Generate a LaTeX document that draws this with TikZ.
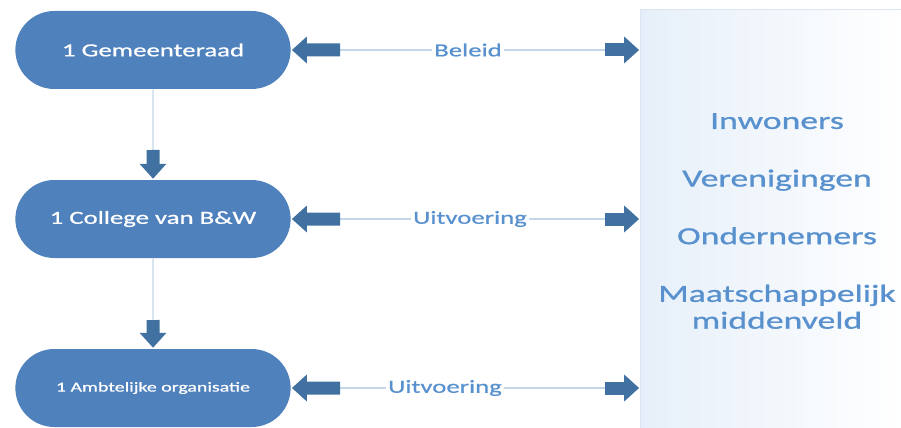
\documentclass[tikz,border=0pt]{standalone}
\usepackage{fontspec}
\setmainfont[FakeStretch=1.45,FakeBold=0.8]{Carlito}
\usetikzlibrary{arrows.meta,positioning,shapes.misc}

\definecolor{orgblue}{RGB}{79,129,189}
\definecolor{arrowblue}{RGB}{65,113,160}
\definecolor{lineblue}{RGB}{196,214,234}
\definecolor{textblue}{RGB}{88,145,206}
\definecolor{panelblue}{RGB}{230,239,249}

\tikzset{
	orgnode/.style={rounded rectangle, fill=orgblue, text=white, minimum width=5.74cm, minimum height=1.56cm, font=\fontsize{10.5}{13}\selectfont},
	flowlabel/.style={text=textblue, font=\fontsize{10.5}{13}\selectfont, inner sep=1pt},
	thinline/.style={lineblue, line width=0.6pt},
	blockarrow/.style={arrowblue, line width=0.26cm, -{Triangle[width=0.52cm, length=0.3cm]}, shorten >=0.5pt}
}

\begin{document}
\begin{tikzpicture}
	\useasboundingbox (0,0) rectangle (18.02,8.54);

	\node [draw=lineblue!60, line width=0.4pt, left color=panelblue, right color=white, minimum width=5.3cm, minimum height=8.4cm, anchor=south west] (panel) at (12.8,-0.06) {};

	\node [text=textblue, align=center, font=\fontsize{14}{15.3}\selectfont] (groups) at (15.54,4.12) {Inwoners\\[17.5pt]Verenigingen\\[17.5pt]Ondernemers\\[17.5pt]Maatschappelijk\\middenveld};

	\node [orgnode] (raad) at (3.06,7.54) {1 Gemeenteraad};

	\node [orgnode] (college) at (3.06,4.16) {1 College van B\&W};

	\node [orgnode, font=\fontsize{7.8}{10}\selectfont] (ambt) at (3.06,0.78) {1 Ambtelijke organisatie};

	\node [flowlabel] (beleid) at (9.36,7.54) {Beleid};

	\node [flowlabel] (uitv1) at (9.4,4.16) {Uitvoering};

	\node [flowlabel] (uitv2) at (8.9,0.78) {Uitvoering};

	\coordinate (raad-in) at (6.8,7.54);
	\coordinate (college-in) at (6.8,4.16);
	\coordinate (ambt-in) at (6.8,0.78);
	\coordinate (raad-out) at (12.1,7.54);
	\coordinate (college-out) at (12.1,4.16);
	\coordinate (ambt-out) at (12.1,0.78);
	\coordinate (raad-down) at (3.06,5.54);
	\coordinate (college-down) at (3.06,2.14);

	\draw [thinline] (beleid) -- (raad-in);
	\draw [blockarrow] (raad-in) -- (raad);
	\draw [thinline] (beleid) -- (raad-out);
	\draw [blockarrow] (raad-out) -- (raad-out -| panel.west);

	\draw [thinline] (uitv1) -- (college-in);
	\draw [blockarrow] (college-in) -- (college);
	\draw [thinline] (uitv1) -- (college-out);
	\draw [blockarrow] (college-out) -- (college-out -| panel.west);

	\draw [thinline] (uitv2) -- (ambt-in);
	\draw [blockarrow] (ambt-in) -- (ambt);
	\draw [thinline] (uitv2) -- (ambt-out);
	\draw [blockarrow] (ambt-out) -- (ambt-out -| panel.west);

	\draw [thinline] (raad) -- (raad-down);
	\draw [blockarrow] (raad-down) -- (college);

	\draw [thinline] (college) -- (college-down);
	\draw [blockarrow] (college-down) -- (ambt);
\end{tikzpicture}
\end{document}
